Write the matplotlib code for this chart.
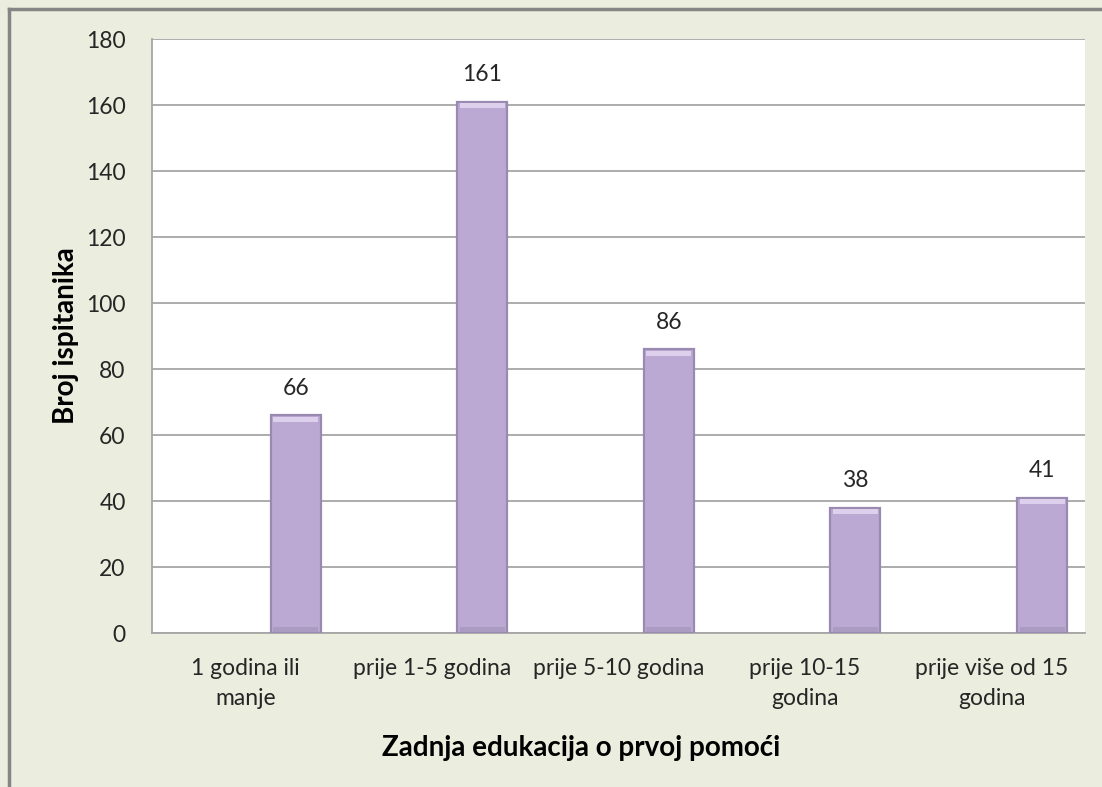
import numpy as np
import matplotlib.pyplot as plt
from matplotlib.lines import Line2D

categories = ["1 godina ili\nmanje", "prije 1-5 godina", "prije 5-10 godina",
              "prije 10-15\ngodina", "prije više od 15\ngodina"]
values = [66, 161, 86, 38, 41]
yticks = [0, 20, 40, 60, 80, 100, 120, 140, 160, 180]

plt.rcParams['font.family'] = ['Lato', 'DejaVu Sans']
bg = '#EBEDDE'
text_col = '#262626'

fig = plt.figure(figsize=(11.02, 7.87), dpi=100, facecolor=bg)
ax = fig.add_axes([152 / 1102, 1 - 633 / 787, 933 / 1102, 594 / 787])
ax.set_facecolor('white')

x = np.arange(len(categories))
offset = 0.27
width = 0.268

# main bars with darker edge (bevel look)
bars = ax.bar(x + offset, values, width, color='#BBA9D3', edgecolor='#9A89B1',
              linewidth=1.6, zorder=3)
# lighter top bevel strip
ax.bar(x + offset, [1.6] * len(values), width * 0.9, bottom=np.array(values) - 2.0,
       color='#DCD0EC', linewidth=0, zorder=4)
# darker bottom strip
ax.bar(x + offset, [1.5] * len(values), width * 0.9, bottom=0.3,
       color='#AB9BC3', linewidth=0, zorder=4)

for b, v in zip(bars, values):
    ax.annotate(str(v), (b.get_x() + b.get_width() / 2, v), xytext=(0, 12),
                textcoords='offset points', ha='center', va='bottom',
                fontsize=16.5, color=text_col)

ax.set_xlim(-0.5, len(categories) - 0.5)
ax.set_ylim(0, 180)
ax.set_yticks(yticks)
ax.set_xticks(x)
ax.set_xticklabels(categories, fontsize=16.5, color=text_col, linespacing=1.55)
ax.tick_params(axis='y', labelsize=16.5, labelcolor=text_col, length=0, pad=19)
ax.tick_params(axis='x', length=0, pad=18)
ax.grid(axis='y', color='#A6A6A6', linewidth=1.3, zorder=0)
ax.set_axisbelow(True)
for s in ['top', 'right']:
    ax.spines[s].set_visible(False)
for s in ['left', 'bottom']:
    ax.spines[s].set_color('#A6A6A6')
    ax.spines[s].set_linewidth(1.3)

fig.text(581 / 1102, 1 - 748 / 787, "Zadnja edukacija o prvoj pomoći",
         ha='center', va='center', fontsize=20, fontweight='bold', color='black')
fig.text(66 / 1102, 1 - 336 / 787, "Broj ispitanika", ha='center', va='center',
         rotation=90, fontsize=20, fontweight='bold', color='black')

# chart area border (top and left visible)
fig.add_artist(Line2D([9 / 1102, 9 / 1102], [0, 1 - 9 / 787], transform=fig.transFigure,
                      color='#858585', linewidth=2.5))
fig.add_artist(Line2D([9 / 1102, 1], [1 - 9 / 787, 1 - 9 / 787], transform=fig.transFigure,
                      color='#858585', linewidth=2.5))

fig.savefig('out.png', dpi=100, facecolor=bg)
